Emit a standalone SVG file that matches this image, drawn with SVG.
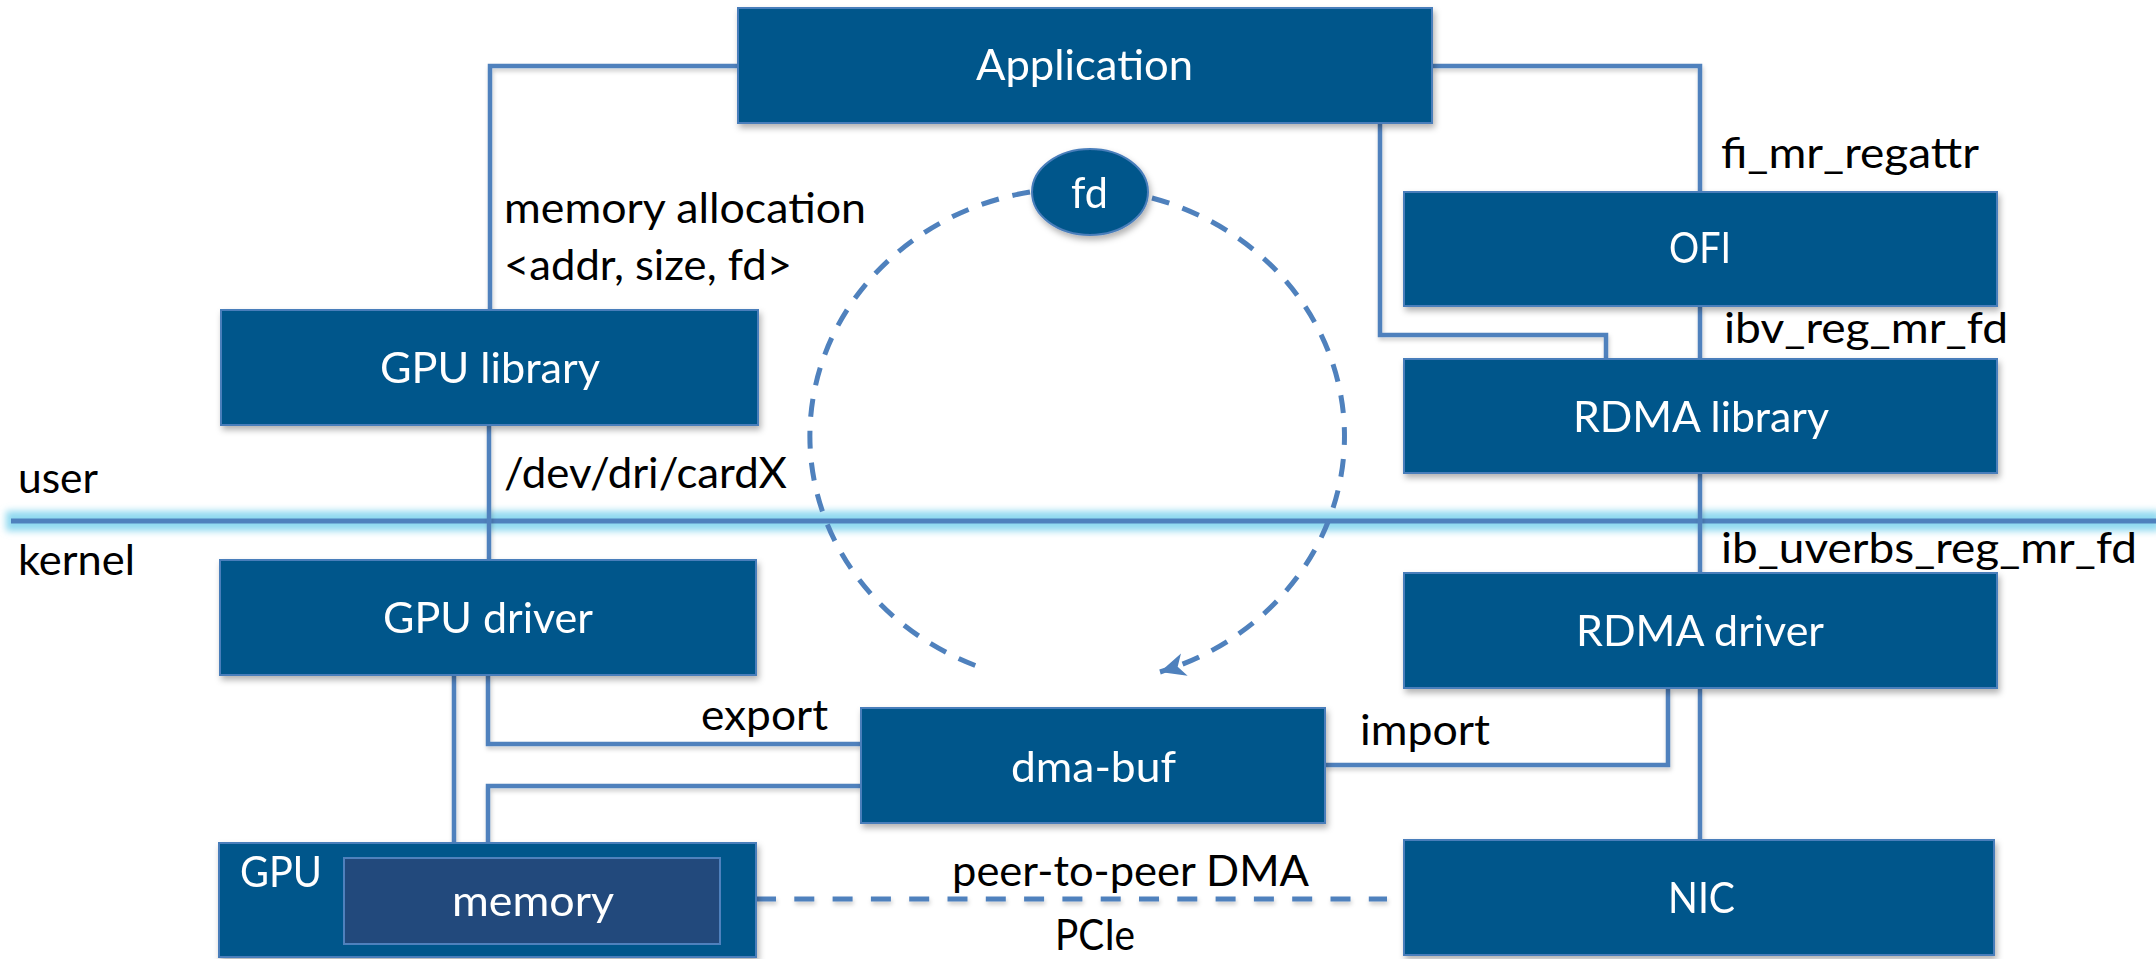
<svg xmlns="http://www.w3.org/2000/svg" width="2156" height="959" viewBox="0 0 2156 959">
  <defs>
    <style>
      .box { fill: #04578B; stroke: #4A7EBB; stroke-width: 2; }
      .mem { fill: #214A7C; stroke: #4F81BD; stroke-width: 2; }
      .wire { fill: none; stroke: #4F81BD; stroke-width: 4.5; stroke-linejoin: miter; }
      .dash { fill: none; stroke: #4F81BD; stroke-width: 5; stroke-dasharray: 18 14; }
      .pcie { fill: none; stroke: #4F81BD; stroke-width: 5; stroke-dasharray: 20 18.3; }
      .lbl { font-family: Lato, "Open Sans", sans-serif; font-size: 43px; fill: #000000; }
      .wl { font-family: Lato, "Open Sans", sans-serif; font-size: 43px; fill: #FFFFFF; }
    </style>
    <filter id="shadow" x="-10%" y="-20%" width="130%" height="150%">
      <feDropShadow dx="2" dy="4" stdDeviation="3" flood-color="#000000" flood-opacity="0.3"/>
    </filter>
    <filter id="lineShadow" filterUnits="userSpaceOnUse" x="0" y="0" width="2156" height="959">
      <feDropShadow dx="1" dy="3" stdDeviation="2" flood-color="#000000" flood-opacity="0.2"/>
    </filter>
    <filter id="glow" filterUnits="userSpaceOnUse" x="0" y="490" width="2156" height="62">
      <feGaussianBlur stdDeviation="3.5"/>
    </filter>
    <marker id="arrow" markerUnits="userSpaceOnUse" markerWidth="30" markerHeight="30" viewBox="-24 -12 26 24" refX="0" refY="0" orient="auto">
      <path d="M0,0 L-22,-10 L-16,0 L-22,10 Z" fill="#4F81BD"/>
    </marker>
  </defs>

  <rect x="0" y="0" width="2156" height="959" fill="#FFFFFF"/>

  <!-- user / kernel boundary -->
  <g id="boundary">
    <line x1="6" y1="521" x2="2160" y2="521" stroke="#8FD9F0" stroke-width="20" filter="url(#glow)"/>
    <line x1="11" y1="521" x2="2160" y2="521" stroke="#4F81BD" stroke-width="5"/>
    <text class="lbl" x="18" y="493" textLength="80" lengthAdjust="spacingAndGlyphs">user</text>
    <text class="lbl" x="18" y="575" textLength="117" lengthAdjust="spacingAndGlyphs">kernel</text>
  </g>

  <!-- connectors -->
  <g id="connectors">
    <g filter="url(#lineShadow)">
      <polyline class="wire" points="738,66 490,66 490,310"/>
      <polyline class="wire" points="1432,66 1700,66 1700,192"/>
      <polyline class="wire" points="1380,123 1380,335 1606,335 1606,359"/>
      <line class="wire" x1="1700" y1="306" x2="1700" y2="359"/>
      <line class="wire" x1="1700" y1="473" x2="1700" y2="573"/>
      <line class="wire" x1="1700" y1="688" x2="1700" y2="840"/>
      <polyline class="wire" points="1325,765 1668,765 1668,688"/>
      <line class="wire" x1="489" y1="425" x2="489" y2="560"/>
      <line class="wire" x1="454" y1="675" x2="454" y2="843"/>
      <polyline class="wire" points="488,675 488,744 861,744"/>
      <polyline class="wire" points="861,786 488,786 488,843"/>
      <line class="pcie" x1="756" y1="899" x2="1387" y2="899"/>
    </g>
    <!-- fd hand-off loop -->
    <path class="dash" d="M 1030 192 A 267 248 0 0 0 988 670"/>
    <path class="dash" d="M 1152 198 A 267 248 0 0 1 1160 672" marker-end="url(#arrow)"/>

    <text class="lbl" x="504" y="223" textLength="362" lengthAdjust="spacingAndGlyphs">memory allocation</text>
    <text class="lbl" x="504" y="280" textLength="288" lengthAdjust="spacingAndGlyphs">&lt;addr, size, fd&gt;</text>
    <text class="lbl" x="504" y="488" textLength="283" lengthAdjust="spacingAndGlyphs">/dev/dri/cardX</text>
    <text class="lbl" x="1721" y="168" textLength="258" lengthAdjust="spacingAndGlyphs">fi_mr_regattr</text>
    <text class="lbl" x="1724" y="343" textLength="284" lengthAdjust="spacingAndGlyphs">ibv_reg_mr_fd</text>
    <text class="lbl" x="1721" y="563" textLength="416" lengthAdjust="spacingAndGlyphs">ib_uverbs_reg_mr_fd</text>
    <text class="lbl" x="701" y="730" textLength="127" lengthAdjust="spacingAndGlyphs">export</text>
    <text class="lbl" x="1360" y="745" textLength="130" lengthAdjust="spacingAndGlyphs">import</text>
    <text class="lbl" x="952" y="886" textLength="357" lengthAdjust="spacingAndGlyphs">peer-to-peer DMA</text>
    <text class="lbl" x="1055" y="950" textLength="80" lengthAdjust="spacingAndGlyphs">PCIe</text>
  </g>

  <!-- nodes -->
  <g id="application" filter="url(#shadow)">
    <rect class="box" x="738" y="8" width="694" height="115"/>
    <text class="wl" x="976" y="80" textLength="217" lengthAdjust="spacingAndGlyphs">Application</text>
  </g>
  <g id="ofi" filter="url(#shadow)">
    <rect class="box" x="1404" y="192" width="593" height="114"/>
    <text class="wl" x="1669" y="263" textLength="62" lengthAdjust="spacingAndGlyphs">OFI</text>
  </g>
  <g id="rdma-library" filter="url(#shadow)">
    <rect class="box" x="1404" y="359" width="593" height="114"/>
    <text class="wl" x="1573" y="432" textLength="256" lengthAdjust="spacingAndGlyphs">RDMA library</text>
  </g>
  <g id="gpu-library" filter="url(#shadow)">
    <rect class="box" x="221" y="310" width="537" height="115"/>
    <text class="wl" x="380" y="383" textLength="220" lengthAdjust="spacingAndGlyphs">GPU library</text>
  </g>
  <g id="gpu-driver" filter="url(#shadow)">
    <rect class="box" x="220" y="560" width="536" height="115"/>
    <text class="wl" x="383" y="633" textLength="210" lengthAdjust="spacingAndGlyphs">GPU driver</text>
  </g>
  <g id="dma-buf" filter="url(#shadow)">
    <rect class="box" x="861" y="708" width="464" height="115"/>
    <text class="wl" x="1011" y="782" textLength="165" lengthAdjust="spacingAndGlyphs">dma-buf</text>
  </g>
  <g id="rdma-driver" filter="url(#shadow)">
    <rect class="box" x="1404" y="573" width="593" height="115"/>
    <text class="wl" x="1576" y="646" textLength="248" lengthAdjust="spacingAndGlyphs">RDMA driver</text>
  </g>
  <g id="gpu" filter="url(#shadow)">
    <rect class="box" x="219" y="843" width="537" height="114"/>
    <text class="wl" x="240" y="887" textLength="82" lengthAdjust="spacingAndGlyphs">GPU</text>
    <g id="memory">
      <rect class="mem" x="344" y="858" width="376" height="86"/>
      <text class="wl" x="452" y="916" textLength="162" lengthAdjust="spacingAndGlyphs">memory</text>
    </g>
  </g>
  <g id="nic" filter="url(#shadow)">
    <rect class="box" x="1404" y="840" width="590" height="115"/>
    <text class="wl" x="1668" y="913" textLength="67" lengthAdjust="spacingAndGlyphs">NIC</text>
  </g>
  <g id="fd" filter="url(#shadow)">
    <ellipse cx="1090" cy="192" rx="58" ry="43" fill="#04578B" stroke="#4A7EBB" stroke-width="2"/>
    <text class="wl" x="1071" y="208" textLength="37" lengthAdjust="spacingAndGlyphs">fd</text>
  </g>
</svg>
